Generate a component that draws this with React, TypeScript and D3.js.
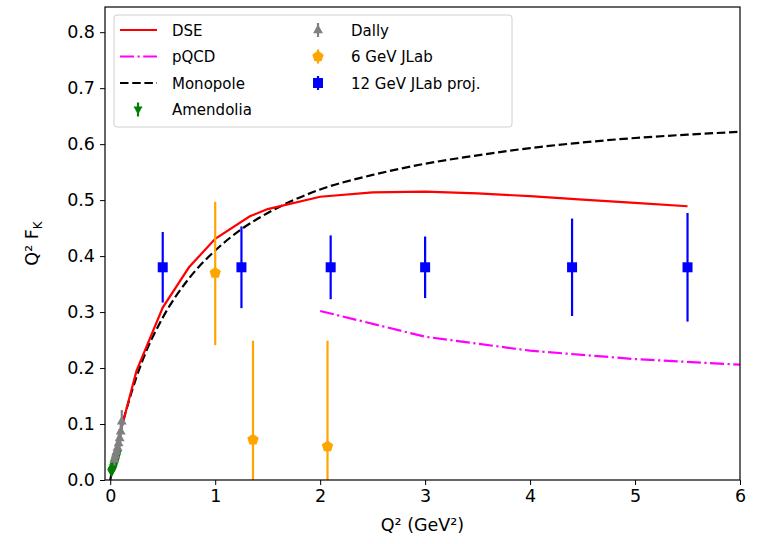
import { useEffect, useRef } from 'react';
import * as d3 from 'd3';

// DSE curve
const dseQ2 = [0.11, 0.25, 0.5, 0.75, 1.0, 1.33, 1.5, 2.0, 2.5, 3.0, 3.5, 4.0, 4.5, 5.0, 5.5];
const dseF = [0.095, 0.195, 0.308, 0.38, 0.431, 0.471, 0.484, 0.506, 0.514, 0.515, 0.512, 0.507, 0.501, 0.495, 0.489];

// pQCD curve
const pqcdQ2 = [2.0, 3.0, 4.0, 5.0, 6.0];
const pqcdF = [0.302, 0.256, 0.231, 0.216, 0.206];

// Monopole curve
const monoQ2 = [0, 0.1, 0.2, 0.3, 0.5, 0.75, 1.0, 1.25, 1.5, 2.0, 2.5, 3.0, 3.5, 4.0, 4.5, 5.0, 5.5, 6.0];
const monoF = [0, 0.088, 0.155, 0.21, 0.29, 0.36, 0.41, 0.448, 0.477, 0.519, 0.545, 0.565, 0.58, 0.593, 0.603, 0.611, 0.617, 0.622];

// Amendolia
const amenQ2 = [0.012, 0.016, 0.02, 0.025, 0.03, 0.035, 0.04, 0.045, 0.05, 0.055, 0.06, 0.07];
const amenF = [0.014, 0.016, 0.018, 0.02, 0.023, 0.026, 0.03, 0.032, 0.036, 0.039, 0.042, 0.048];
const amenErr = [0.005, 0.005, 0.005, 0.006, 0.006, 0.006, 0.007, 0.007, 0.008, 0.008, 0.009, 0.01];

// Dally
const dallyQ2 = [0.04, 0.05, 0.06, 0.07, 0.08, 0.09, 0.1, 0.11];
const dallyF = [0.037, 0.044, 0.051, 0.058, 0.066, 0.075, 0.087, 0.105];
const dallyErr = [0.011, 0.012, 0.013, 0.014, 0.015, 0.016, 0.018, 0.02];

// 6 GeV JLab
const jlab6Q2 = [1.0, 1.36, 2.07];
const jlab6F = [0.37, 0.072, 0.06];
const jlab6Lo = [0.241, 0.0, 0.0];
const jlab6Hi = [0.497, 0.249, 0.249];

// 12 GeV JLab projection
const jlab12Q2 = [0.5, 1.25, 2.1, 3.0, 4.4, 5.5];
const jlab12F = [0.38, 0.38, 0.38, 0.38, 0.38, 0.38];
const jlab12Err = [0.063, 0.073, 0.057, 0.055, 0.087, 0.097];

const xTicks = [0, 1, 2, 3, 4, 5, 6];
const yTicks = [0, 0.1, 0.2, 0.3, 0.4, 0.5, 0.6, 0.7, 0.8];

const W = 757;
const H = 544;
const FONT = 'DejaVu Sans, sans-serif';

const App = () => {
  const svgRef = useRef<SVGSVGElement>(null);

  useEffect(() => {
    const root = d3.select(svgRef.current);
    root.selectAll('*').remove();

    const left = 105, right = 740, top = 7, bottom = 480;

    const x = d3.scaleLinear().domain([-0.05, 6]).range([left, right]);
    const y = d3.scaleLinear().domain([0, 0.845]).range([bottom, top]);

    const lw = 2.2;
    const monoDash = '8.5,3.7';
    const pqcdDash = '14,3.5,2.2,3.5';

    const pts = (xs: number[], ys: number[]) => xs.map((q, i) => [q, ys[i]] as [number, number]);
    const line = d3.line<[number, number]>().x(d => x(d[0])).y(d => y(d[1]));
    const smooth = d3.line<[number, number]>().x(d => x(d[0])).y(d => y(d[1])).curve(d3.curveMonotoneX);

    root.append('clipPath').attr('id', 'plotclip')
      .append('rect').attr('x', left).attr('y', top).attr('width', right - left).attr('height', bottom - top);

    const g = root.append('g').attr('clip-path', 'url(#plotclip)');

    // curves
    g.append('path').datum(pts(monoQ2, monoF))
      .attr('fill', 'none').attr('stroke', '#000').attr('stroke-width', lw)
      .attr('stroke-dasharray', monoDash).attr('d', smooth);

    g.append('path').datum(pts(dseQ2, dseF))
      .attr('fill', 'none').attr('stroke', '#ff0000').attr('stroke-width', lw).attr('d', line);

    g.append('path').datum(pts(pqcdQ2, pqcdF))
      .attr('fill', 'none').attr('stroke', '#ff00ff').attr('stroke-width', lw)
      .attr('stroke-dasharray', pqcdDash).attr('d', line);

    const tri = (s: number) => `M0,${-s}L${s * 0.9},${s * 0.6}L${-s * 0.9},${s * 0.6}Z`;
    const triDown = (s: number) => `M0,${s}L${s * 0.9},${-s * 0.6}L${-s * 0.9},${-s * 0.6}Z`;
    const pentagon = (r: number) => {
      const p = d3.range(5).map(i => {
        const a = -Math.PI / 2 + i * 2 * Math.PI / 5;
        return `${(r * Math.cos(a)).toFixed(2)},${(r * Math.sin(a)).toFixed(2)}`;
      });
      return 'M' + p.join('L') + 'Z';
    };

    // Amendolia
    amenQ2.forEach((q, i) => {
      g.append('line').attr('x1', x(q)).attr('x2', x(q))
        .attr('y1', y(amenF[i] - amenErr[i])).attr('y2', y(amenF[i] + amenErr[i]))
        .attr('stroke', '#008000').attr('stroke-width', lw);
      g.append('path').attr('d', triDown(5)).attr('fill', '#008000')
        .attr('transform', `translate(${x(q)},${y(amenF[i])})`);
    });

    // Dally
    dallyQ2.forEach((q, i) => {
      g.append('line').attr('x1', x(q)).attr('x2', x(q))
        .attr('y1', y(dallyF[i] - dallyErr[i])).attr('y2', y(dallyF[i] + dallyErr[i]))
        .attr('stroke', '#808080').attr('stroke-width', lw);
      g.append('path').attr('d', tri(5.5)).attr('fill', '#808080')
        .attr('transform', `translate(${x(q)},${y(dallyF[i])})`);
    });

    // 6 GeV JLab
    jlab6Q2.forEach((q, i) => {
      g.append('line').attr('x1', x(q)).attr('x2', x(q))
        .attr('y1', y(jlab6Lo[i])).attr('y2', y(jlab6Hi[i]))
        .attr('stroke', '#ffa500').attr('stroke-width', lw);
      g.append('path').attr('d', pentagon(6)).attr('fill', '#ffa500')
        .attr('transform', `translate(${x(q)},${y(jlab6F[i])})`);
    });

    // 12 GeV JLab proj.
    jlab12Q2.forEach((q, i) => {
      g.append('line').attr('x1', x(q)).attr('x2', x(q))
        .attr('y1', y(jlab12F[i] - jlab12Err[i])).attr('y2', y(jlab12F[i] + jlab12Err[i]))
        .attr('stroke', '#0000ff').attr('stroke-width', lw);
      g.append('rect').attr('x', x(q) - 5).attr('y', y(jlab12F[i]) - 5)
        .attr('width', 10).attr('height', 10).attr('fill', '#0000ff');
    });

    // axes
    const xAxis = root.append('g').attr('transform', `translate(0,${bottom})`)
      .call(d3.axisBottom(x).tickValues(xTicks).tickFormat(d3.format('d')).tickSize(5).tickPadding(5));
    const yAxis = root.append('g').attr('transform', `translate(${left},0)`)
      .call(d3.axisLeft(y).tickValues(yTicks).tickFormat(d3.format('.1f')).tickSize(5).tickPadding(5));
    [xAxis, yAxis].forEach(a => {
      a.select('.domain').remove();
      a.selectAll('line').attr('stroke', '#000').attr('stroke-width', 1);
      a.selectAll('text').attr('font-family', FONT).attr('font-size', 17.5).attr('fill', '#000');
    });

    root.append('rect').attr('x', left).attr('y', top).attr('width', right - left).attr('height', bottom - top)
      .attr('fill', 'none').attr('stroke', '#000').attr('stroke-width', 1.2);

    // axis labels
    root.append('text').attr('x', (left + right) / 2).attr('y', 531)
      .attr('text-anchor', 'middle').attr('font-family', FONT).attr('font-size', 17.5)
      .text('Q² (GeV²)');
    const yl = root.append('text').attr('transform', `translate(38,${(top + bottom) / 2}) rotate(-90)`)
      .attr('text-anchor', 'middle').attr('font-family', FONT).attr('font-size', 17.5);
    yl.append('tspan').text('Q² F');
    yl.append('tspan').attr('font-size', 12).attr('dy', 4).text('K');

    // legend
    const legend = root.append('g');
    legend.append('rect').attr('x', 114).attr('y', 15).attr('width', 398).attr('height', 112)
      .attr('rx', 3).attr('fill', 'white').attr('fill-opacity', 0.8).attr('stroke', '#d0d0d0');

    const rowY = (i: number) => 30 + i * 26.5;
    const col1 = [
      { label: 'DSE', color: '#ff0000', dash: null as string | null },
      { label: 'pQCD', color: '#ff00ff', dash: pqcdDash },
      { label: 'Monopole', color: '#000', dash: monoDash },
    ];
    col1.forEach((item, i) => {
      const ln = legend.append('line').attr('x1', 120).attr('x2', 157)
        .attr('y1', rowY(i)).attr('y2', rowY(i))
        .attr('stroke', item.color).attr('stroke-width', lw);
      if (item.dash) ln.attr('stroke-dasharray', item.dash);
      legend.append('text').attr('x', 172).attr('y', rowY(i) + 5.5)
        .attr('font-family', FONT).attr('font-size', 15).text(item.label);
    });
    // Amendolia handle
    legend.append('line').attr('x1', 138).attr('x2', 138).attr('y1', rowY(3) - 7).attr('y2', rowY(3) + 7)
      .attr('stroke', '#008000').attr('stroke-width', lw);
    legend.append('path').attr('d', triDown(5)).attr('fill', '#008000')
      .attr('transform', `translate(138,${rowY(3)})`);
    legend.append('text').attr('x', 172).attr('y', rowY(3) + 5.5)
      .attr('font-family', FONT).attr('font-size', 15).text('Amendolia');

    const col2 = [
      { label: 'Dally', color: '#808080', shape: tri(5.5) },
      { label: '6 GeV JLab', color: '#ffa500', shape: pentagon(6) },
      { label: '12 GeV JLab proj.', color: '#0000ff', shape: 'M-5,-5H5V5H-5Z' },
    ];
    col2.forEach((item, i) => {
      legend.append('line').attr('x1', 318).attr('x2', 318).attr('y1', rowY(i) - 7).attr('y2', rowY(i) + 7)
        .attr('stroke', item.color).attr('stroke-width', lw);
      legend.append('path').attr('d', item.shape).attr('fill', item.color)
        .attr('transform', `translate(318,${rowY(i)})`);
      legend.append('text').attr('x', 351).attr('y', rowY(i) + 5.5)
        .attr('font-family', FONT).attr('font-size', 15).text(item.label);
    });
  }, []);

  return (
    <svg ref={svgRef} width={W} height={H}
      style={{ position: 'absolute', left: 0, top: 0, background: 'white' }} />
  );
};

export default App;
